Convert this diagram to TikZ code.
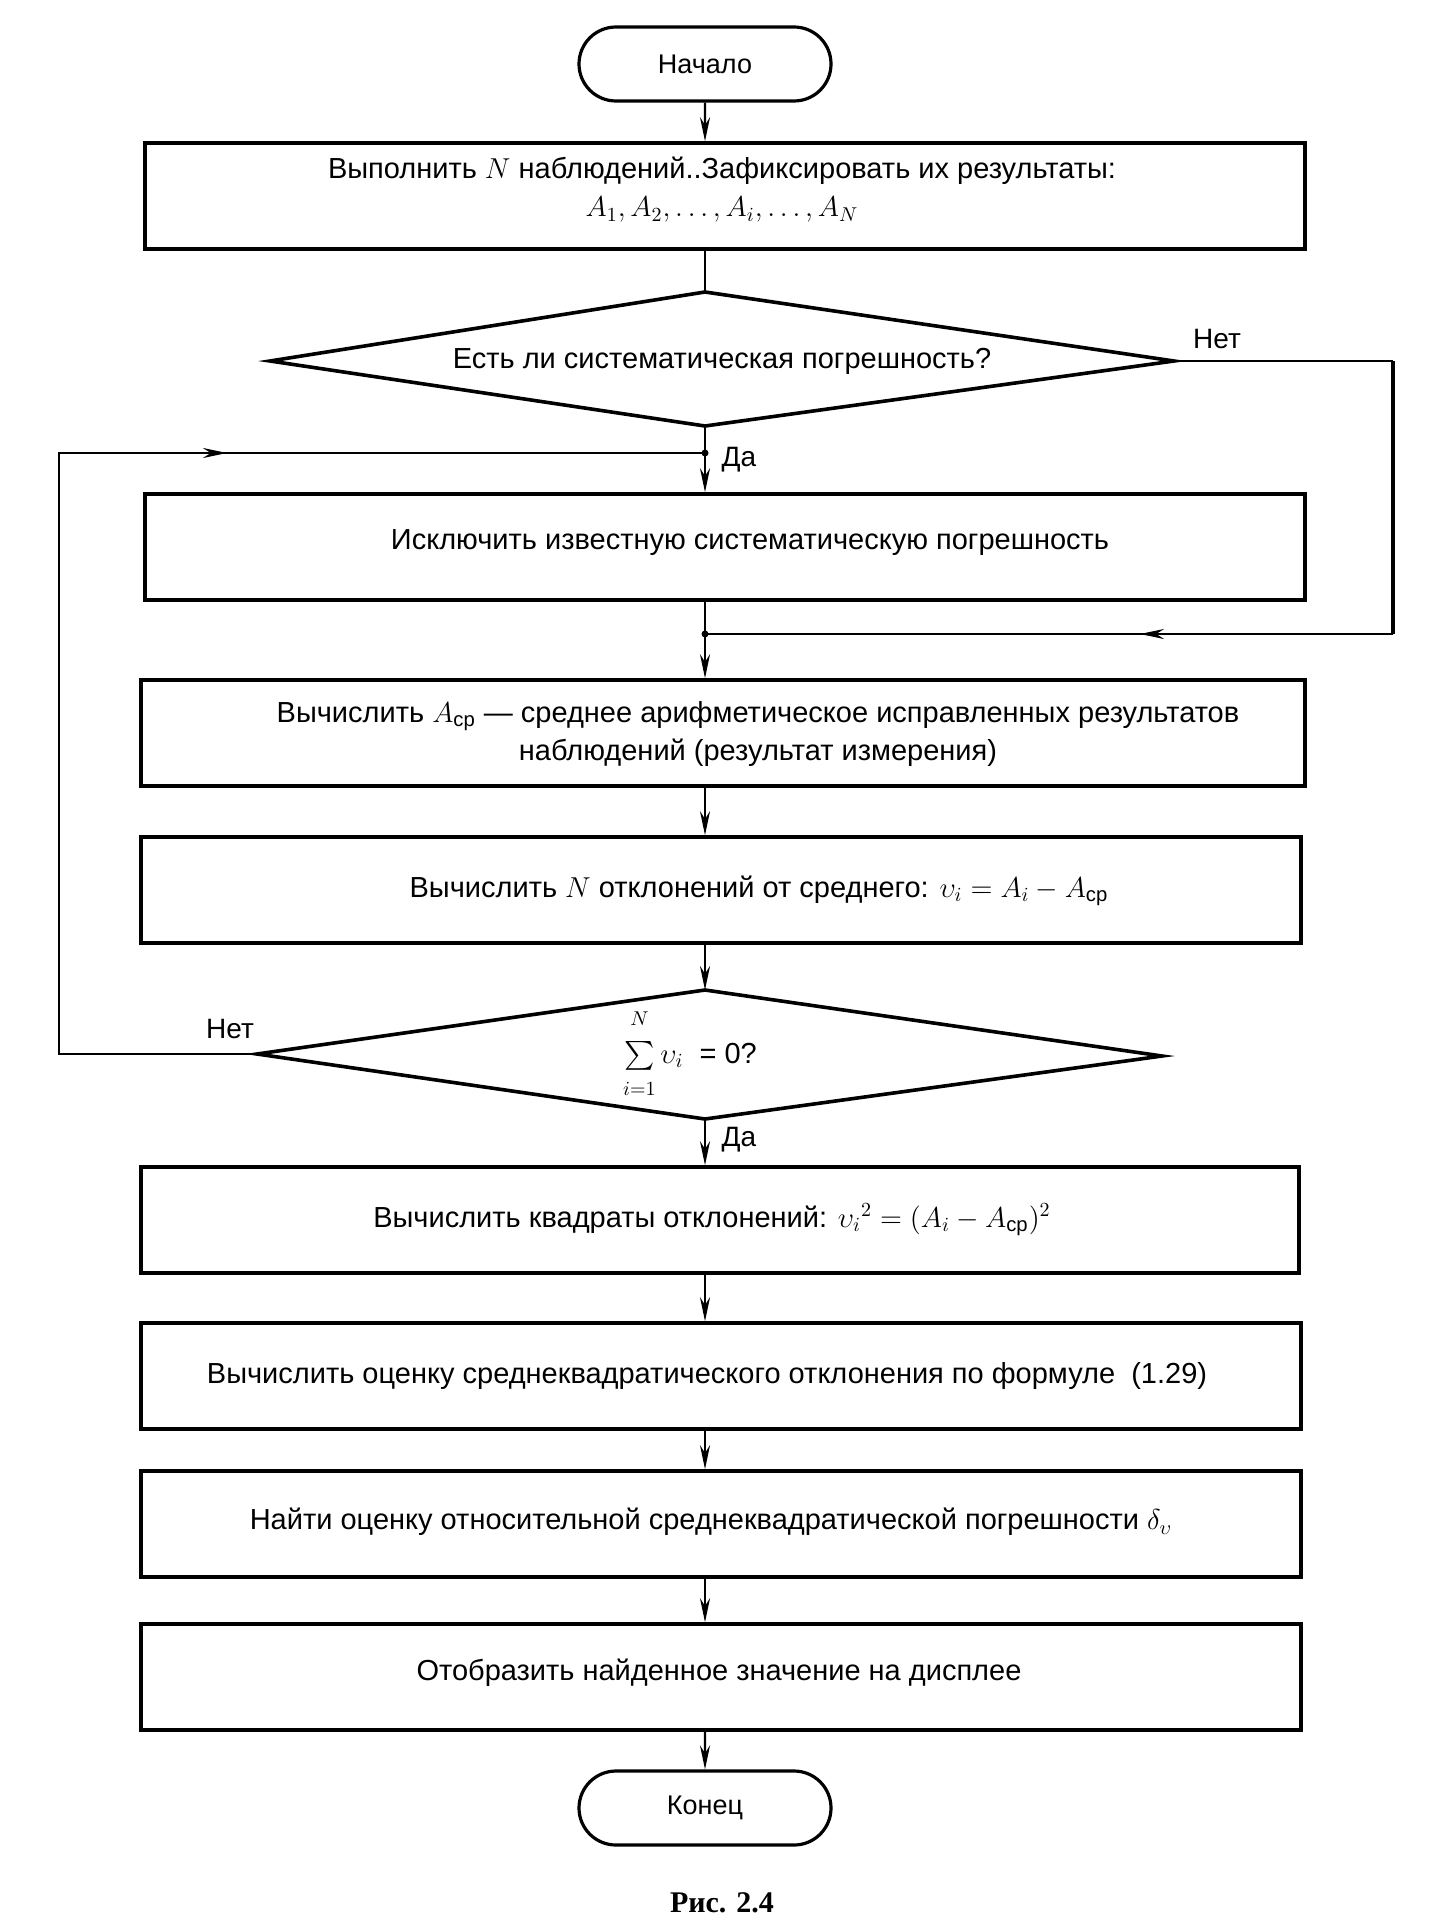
\documentclass[tikz,border=0pt]{standalone}
\usepackage{fontspec}
\usepackage{amsmath}
\setmainfont{Liberation Sans}
\newfontfamily\capfont{Liberation Serif}
\usetikzlibrary{arrows.meta,shapes.misc}
\tikzset{
  boxshape/.style={draw, line width=1.8pt, minimum width=580pt, minimum height=53pt, inner sep=0pt},
  termshape/.style={draw, rounded rectangle, line width=1.6pt, minimum width=126pt, minimum height=37pt, inner sep=0pt, font=\fontsize{13.5}{15}\selectfont},
  txt/.style={align=center, inner sep=0pt, font=\fontsize{14.5}{19}\selectfont},
  lab/.style={inner sep=0pt, font=\fontsize{14}{15}\selectfont},
  conn/.style={line width=1.1pt},
  arr/.style={conn, -{Stealth[length=12pt,width=5pt]}},
  dshape/.style={line width=1.8pt, line join=miter},
  dot/.style={circle, fill, inner sep=0pt, minimum size=3.5pt}
}
\begin{document}
\begin{tikzpicture}[x=0.5pt,y=-0.5pt]
\useasboundingbox (0,0) rectangle (1430,1921);
% terminals
\node[termshape] (start) at (705,64) {Начало};
\node[termshape] (end) at (705,1808) {Конец};
% boxes
\node[boxshape] (b1) at (725,196) {};
\node[txt] (b1t) at (722,190) {Выполнить $N$ наблюдений..Зафиксировать их результаты:\\ $A_1,A_2,\ldots,A_i,\ldots,A_N$};
\node[boxshape] (b2) at (725,547) {};
\node[txt] (b2t) at (750,543) {Исключить известную систематическую погрешность};
\node[boxshape, minimum width=582pt] (b3) at (723,733) {};
\node[txt] (b3t) at (758,734) {Вычислить $A_{\text{ср}}$ --- среднее арифметическое исправленных результатов\\ наблюдений (результат измерения)};
\node[boxshape] (b4) at (721,890) {};
\node[txt] (b4t) at (759,891) {Вычислить $N$ отклонений от среднего: $\upsilon_i = A_i - A_{\text{ср}}$};
\node[boxshape, minimum width=579pt] (b5) at (720,1220) {};
\node[txt] (b5t) at (712,1220) {Вычислить квадраты отклонений: ${\upsilon_i}^{2} = (A_i - A_{\text{ср}})^2$};
\node[boxshape] (b6) at (721,1376) {};
\node[txt] (b6t) at (707,1376) {Вычислить оценку среднеквадратического отклонения по формуле\ \ (1.29)};
\node[boxshape] (b7) at (721,1524) {};
\node[txt] (b7t) at (711,1522) {Найти оценку относительной среднеквадратической погрешности $\delta_\upsilon$};
\node[boxshape] (b8) at (721,1677) {};
\node[txt] (b8t) at (719,1673) {Отобразить найденное значение на дисплее};
% diamond 1
\coordinate (d1t) at (705,292);
\coordinate (d1r) at (1174,361);
\coordinate (d1b) at (705,426);
\coordinate (d1l) at (270,361);
\draw[dshape] (d1t) -- (d1r) -- (d1b) -- (d1l) -- cycle;
\node[txt] (d1) at (722,361) {Есть ли систематическая погрешность?};
% diamond 2
\coordinate (d2t) at (705,990);
\coordinate (d2r) at (1162,1056);
\coordinate (d2b) at (705,1119);
\coordinate (d2l) at (257,1054);
\draw[dshape] (d2t) -- (d2r) -- (d2b) -- (d2l) -- cycle;
\node[txt] (d2) at (690,1054) {$\sum\limits^{\raisebox{5pt}{$\scriptstyle N$}}_{\raisebox{-4pt}{$\scriptstyle i=1$}}\upsilon_i$\ \ = 0?};
% junctions
\coordinate (j0) at (705,453);
\coordinate (j1) at (705,634);
\node[dot] (j0d) at (j0) {};
\node[dot] (j1d) at (j1) {};
% right loop corners
\coordinate (r1) at (1393,361);
\coordinate (r2) at (1393,634);
\coordinate (ra) at (1140,634);
% left loop corners
\coordinate (l1) at (59,1054);
\coordinate (l2) at (59,453);
\coordinate (la) at (227,453);
% connectors
\draw[arr] (start) -- (b1.north -| start);
\draw[conn] (b1.south -| d1t) -- (d1t);
\draw[arr] (d1b) -- (b2.north -| d1b);
\draw[conn] (d1r) -- (r1);
\draw[line width=2.2pt] (r1) -- (r2);
\draw[conn] (r2) -- (j1);
\draw[arr] (r2) -- (ra);
\draw[conn] (b2.south -| j1) -- (j1);
\draw[arr] (j1) -- (b3.north -| j1);
\draw[arr] (b3.south -| d1t) -- (b4.north -| d1t);
\draw[arr] (b4.south -| d2t) -- (d2t);
\draw[conn] (d2l) -- (l1) -- (l2) -- (j0);
\draw[arr] (l2) -- (la);
\draw[arr] (d2b) -- (b5.north -| d2b);
\draw[arr] (b5.south -| d2b) -- (b6.north -| d2b);
\draw[arr] (b6.south -| d2b) -- (b7.north -| d2b);
\draw[arr] (b7.south -| d2b) -- (b8.north -| d2b);
\draw[arr] (b8.south -| end) -- (end);
% labels
\node[lab] (no1) at (1217,339) {Нет};
\node[lab] (yes1) at (739,460) {Да};
\node[lab] (no2) at (230,1029) {Нет};
\node[lab] (yes2) at (739,1140) {Да};
% caption
\node[inner sep=0pt, font=\capfont\bfseries\fontsize{15}{18}\selectfont] (cap) at (722,1903) {Рис. 2.4};
\end{tikzpicture}
\end{document}
